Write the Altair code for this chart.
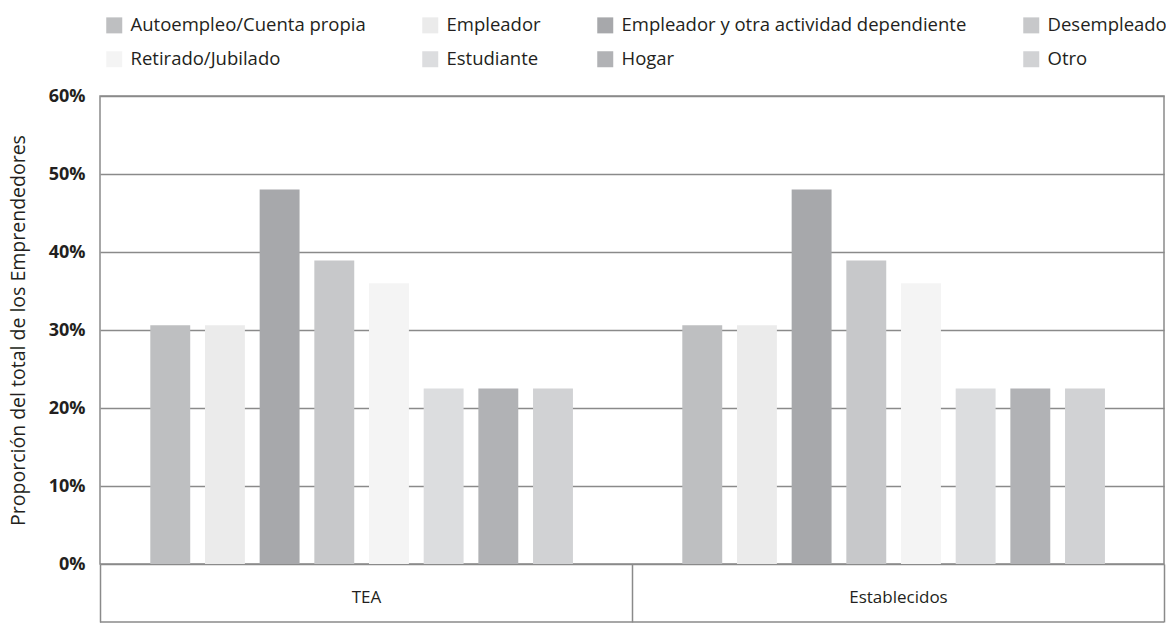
import altair as alt
import pandas as pd

# Entrepreneur shares by prior labour situation, TEA vs established owners
groups = ["TEA", "Establecidos"]
categories = [
    "Autoempleo/Cuenta propia",
    "Empleador",
    "Empleador y otra actividad dependiente",
    "Desempleado",
    "Retirado/Jubilado",
    "Estudiante",
    "Hogar",
    "Otro",
]
tea_share = [30.6, 30.6, 48.0, 38.9, 36.0, 22.5, 22.5, 22.5]
est_share = [30.6, 30.6, 48.0, 38.9, 36.0, 22.5, 22.5, 22.5]
palette = ["#bebfc1", "#ebebeb", "#a7a8ab", "#c7c8ca",
           "#f4f4f4", "#dcdddf", "#b1b2b5", "#d1d2d4"]
y_ticks = [0.0, 0.1, 0.2, 0.3, 0.4, 0.5, 0.6]

rows = []
for g, vals in zip(groups, [tea_share, est_share]):
    for c, v in zip(categories, vals):
        rows.append({"grupo": g, "situacion": c, "proporcion": v / 100})
df = pd.DataFrame(rows)

W, H = 1064, 468
BOX = 58
FONT = "Open Sans"
INK = "#231f20"
LINE = "#8a8a8a"

bars = alt.Chart(df).mark_bar().encode(
    x=alt.X(
        "grupo:N",
        sort=groups,
        title=None,
        scale=alt.Scale(paddingInner=0, paddingOuter=0),
        axis=alt.Axis(
            labelAngle=0,
            tickBand="extent",
            tickSize=BOX,
            tickColor=LINE,
            tickWidth=1.5,
            domain=False,
            labelPadding=-33,
            labelFontSize=17,
            labelColor=INK,
            labelFont=FONT,
        ),
    ),
    xOffset=alt.XOffset(
        "situacion:N",
        sort=categories,
        scale=alt.Scale(paddingInner=0.27, paddingOuter=1, align=0.46),
    ),
    y=alt.Y(
        "proporcion:Q",
        scale=alt.Scale(domain=[0, 0.6]),
        title="Proporción del total de los Emprendedores",
        axis=alt.Axis(
            values=y_ticks,
            format=".0%",
            domain=False,
            ticks=False,
            grid=True,
            gridColor=LINE,
            gridWidth=1.5,
            labelFont=FONT,
            labelFontSize=18,
            labelFontWeight="bold",
            labelColor=INK,
            labelPadding=15,
            titleFont=FONT,
            titleFontSize=19.5,
            titleFontWeight="normal",
            titleColor=INK,
            titlePadding=20,
        ),
    ),
    color=alt.Color(
        "situacion:N",
        sort=categories,
        scale=alt.Scale(domain=categories, range=palette),
        legend=alt.Legend(
            title=None,
            orient="none",
            legendX=5,
            legendY=-80,
            direction="horizontal",
            columns=4,
            columnPadding=55,
            rowPadding=15,
            symbolType="square",
            symbolSize=256,
            symbolStrokeWidth=0,
            labelOffset=7,
            labelLimit=600,
            labelFont=FONT,
            labelFontSize=18.5,
            labelColor=INK,
        ),
    ),
)

frame_bottom = alt.Chart(pd.DataFrame({"grupo": groups[:1]})).mark_rule(
    color=LINE, strokeWidth=1.5
).encode(x=alt.value(0), x2=alt.value(W), y=alt.value(H + BOX))

chart = (
    alt.layer(bars, frame_bottom)
    .properties(
        width=W,
        height=H,
        autosize=alt.AutoSizeParams(type="none"),
        padding={"left": 100, "top": 96, "right": 2, "bottom": 60},
    )
    .configure_view(stroke=LINE, strokeWidth=1.5)
)

chart.save("out.html", embed_options={"renderer": "svg", "actions": False})
